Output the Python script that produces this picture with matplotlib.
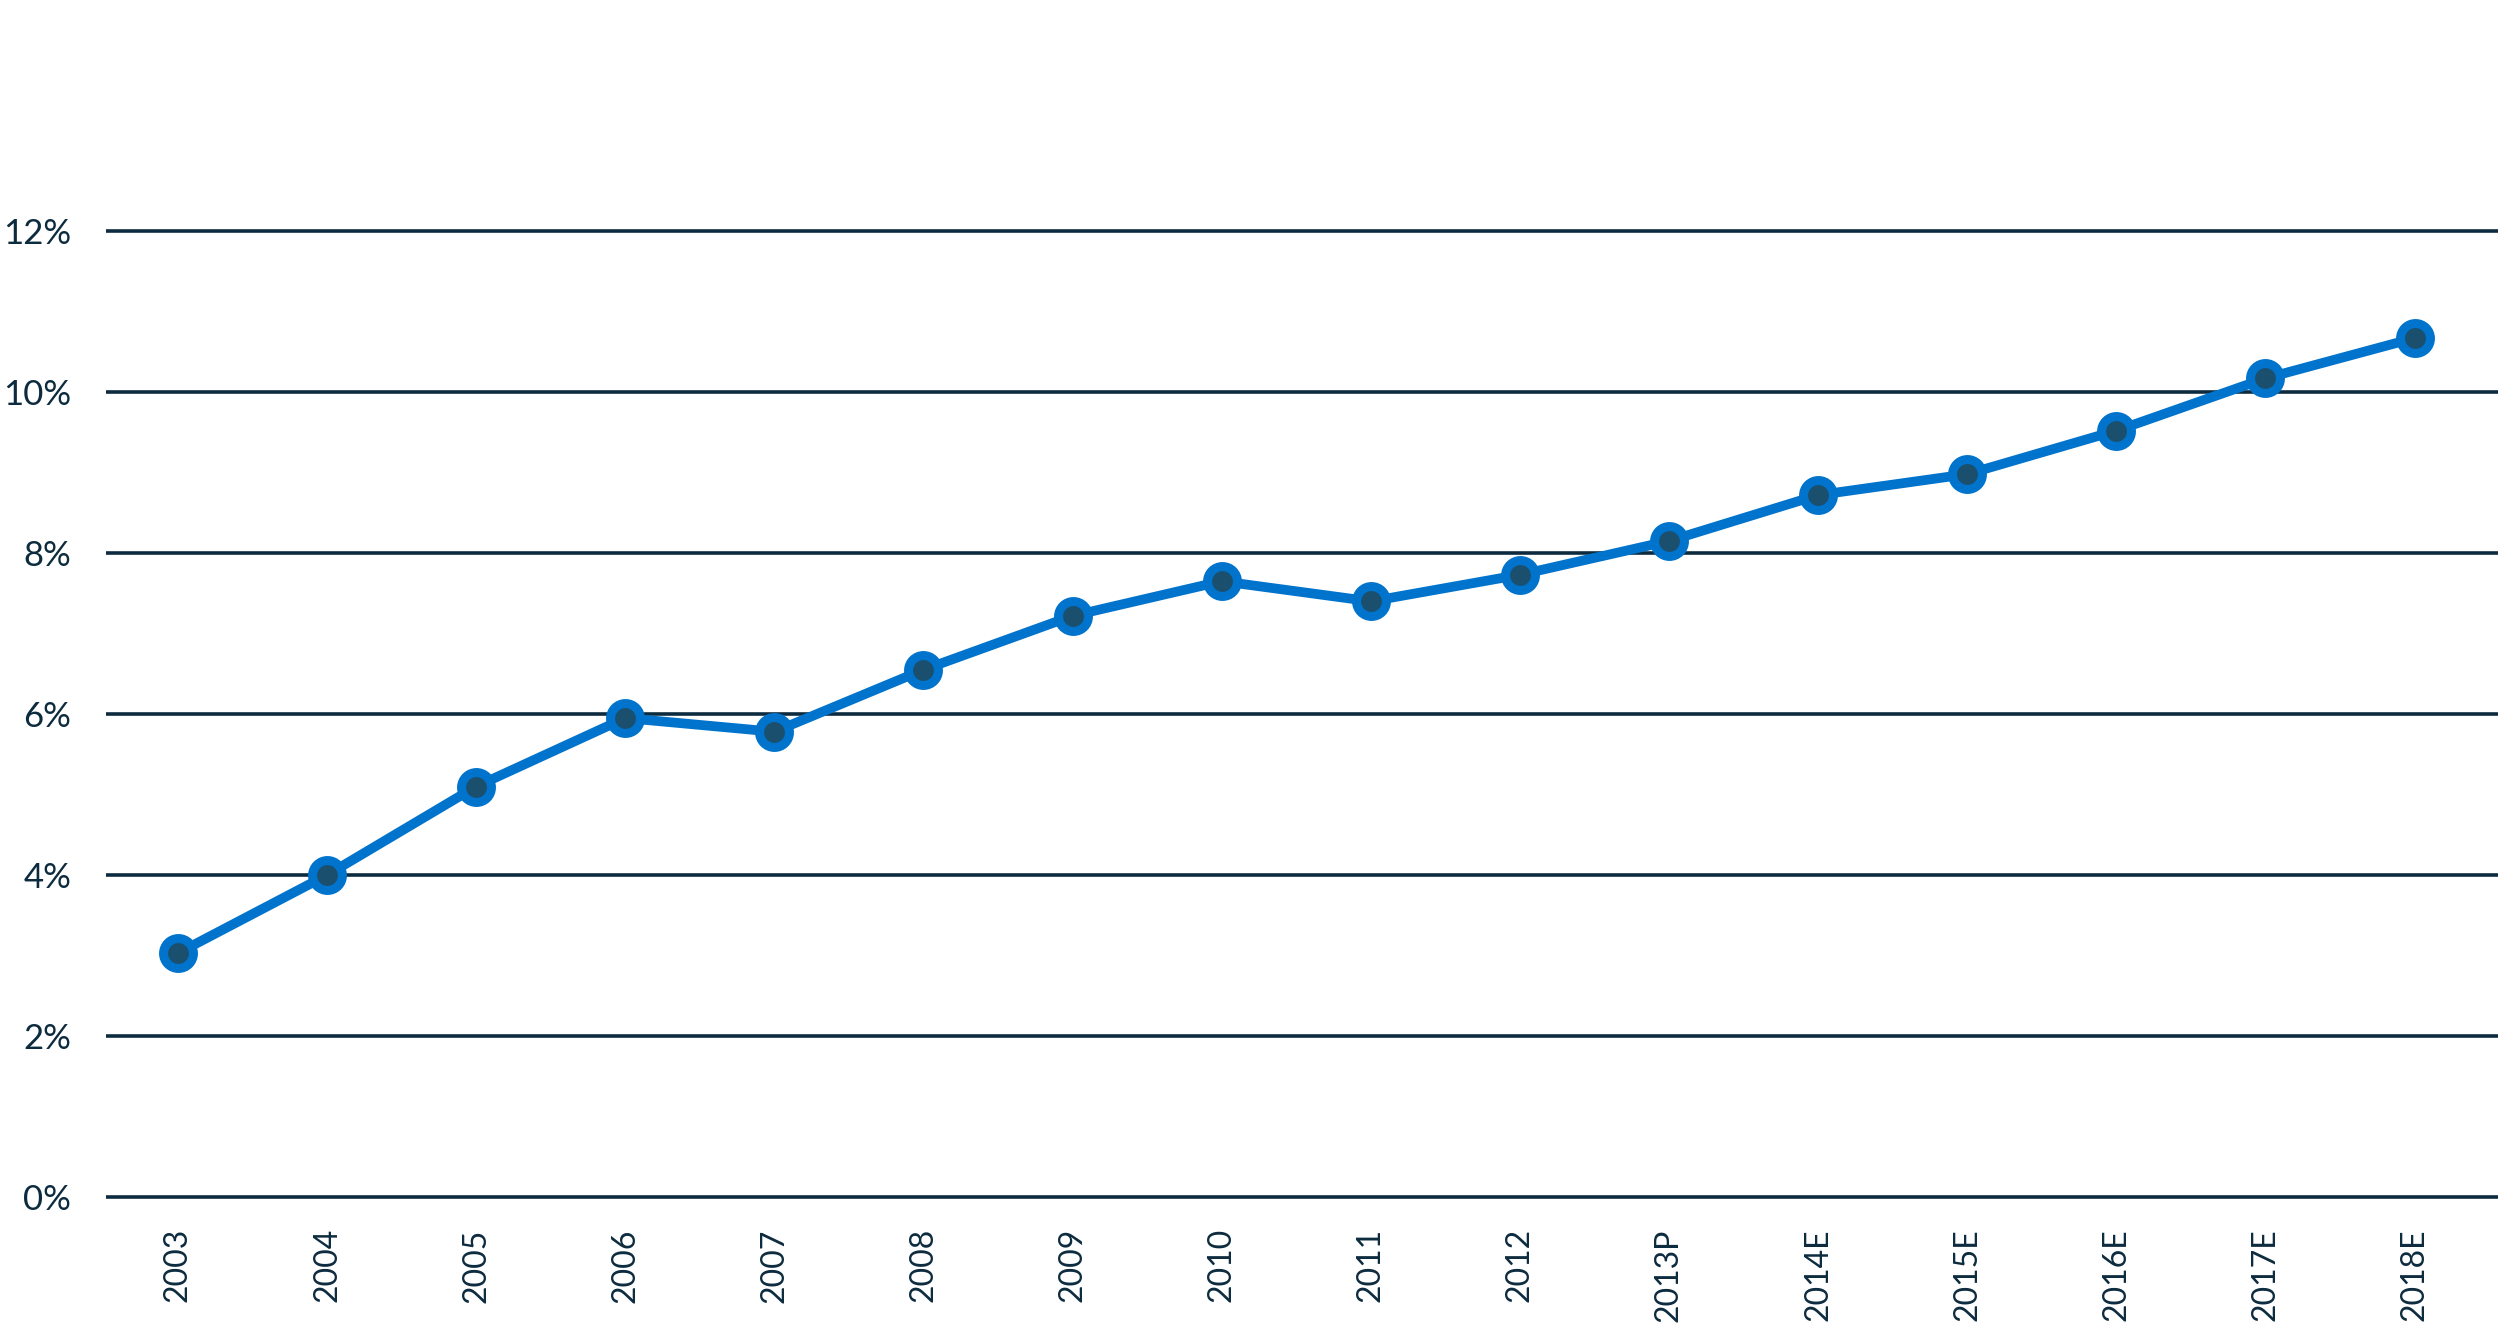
import matplotlib
matplotlib.use("Agg")
import matplotlib.pyplot as plt

# ── Data ─────────────────────────────────────────────────────────────
years  = ["2003", "2004", "2005", "2006", "2007", "2008", "2009", "2010",
          "2011", "2012", "2013P", "2014E", "2015E", "2016E", "2017E", "2018E"]
values = [3.03, 4.0, 5.1, 5.95, 5.78, 6.55, 7.22, 7.65,
          7.4, 7.73, 8.15, 8.72, 8.98, 9.52, 10.17, 10.67]
yticks = [0, 2, 4, 6, 8, 10, 12]
ylabels = [f"{t}%" for t in yticks]

# ── Style ────────────────────────────────────────────────────────────
BLUE = "#0073CC"
DARK = "#1B4F6E"
INK  = "#0D2B3E"
plt.rcParams["font.family"] = ["Lato", "DejaVu Sans"]

fig = plt.figure(figsize=(24.98, 13.23), dpi=100)
ax = fig.add_axes([0.0424, 1 - 1221.2 / 1323, 1 - 0.0424, (1221.2 - 206.9) / 1323])

x = list(range(len(years)))
ax.plot(x, values, color=BLUE, lw=7, zorder=3, solid_capstyle="round")
ax.plot(x, values, ls="none", marker="o", ms=21.5, mfc=DARK, mec=BLUE,
        mew=6.5, zorder=4, clip_on=False)

ax.set_xlim(-0.483, 15.56)
ax.set_ylim(-0.3, 12.3)
ax.set_yticks(yticks)
ax.set_yticklabels(ylabels)
ax.set_xticks(x)
ax.set_xticklabels(years, rotation=90, va="top", ha="center")

ax.yaxis.grid(True, color=INK, lw=2.6)
ax.set_axisbelow(True)
for s in ax.spines.values():
    s.set_visible(False)

ax.tick_params(axis="y", length=0, pad=25, labelsize=25, labelcolor=INK)
ax.tick_params(axis="x", length=0, pad=5, labelsize=23, labelcolor=INK)

fig.savefig("out.png", dpi=100)
